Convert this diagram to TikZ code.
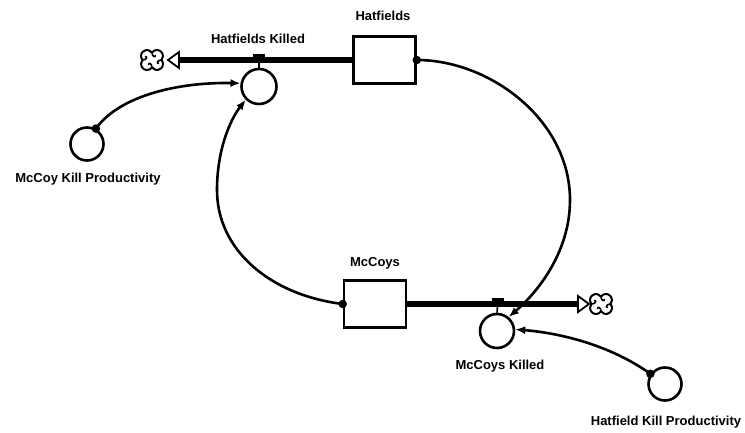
\documentclass[tikz,border=0pt]{standalone}
\usepackage{fontspec}
\setmainfont{Liberation Sans}
\usetikzlibrary{arrows.meta}
\tikzset{
  cloudicon/.pic={
    \fill[white] (5pt,4pt) circle[radius=6pt] (5pt,-4pt) circle[radius=6pt]
                 (-5pt,-4pt) circle[radius=6pt] (-5pt,4pt) circle[radius=6pt];
    \draw[line width=2pt,line join=round]
      (0pt,7.32pt) arc[start angle=146.4,end angle=-41.8,radius=6pt]
      arc[start angle=41.8,end angle=-146.4,radius=6pt]
      arc[start angle=-33.6,end angle=-221.8,radius=6pt]
      arc[start angle=221.8,end angle=33.6,radius=6pt] -- cycle;
    \draw[line width=1.6pt,line cap=round]
      (0pt,7.32pt) .. controls (0pt,4pt) and (3pt,2pt) .. (3.5pt,4.5pt)
      (9.47pt,0pt) .. controls (6pt,0pt) and (4pt,-3pt) .. (6.5pt,-3.5pt)
      (0pt,-7.32pt) .. controls (0pt,-4pt) and (-3pt,-2pt) .. (-3.5pt,-4.5pt)
      (-9.47pt,0pt) .. controls (-6pt,0pt) and (-4pt,3pt) .. (-6.5pt,3.5pt);
  }
}
\begin{document}
\begin{tikzpicture}[x=1pt,y=-1pt,
  stock/.style={draw,line width=2.6pt,minimum width=62pt,minimum height=47pt,inner sep=0pt},
  aux/.style={draw,circle,line width=2.6pt,inner sep=0pt,minimum size=#1},
  lbl/.style={font=\fontsize{13}{15}\selectfont\bfseries,inner sep=0pt},
  pipe/.style={line width=5.5pt},
  valve/.style={fill=black,inner sep=0pt,minimum width=12pt,minimum height=5pt},
  stem/.style={line width=1.6pt},
  link/.style={line width=2.6pt,-{Latex[length=10pt,width=8pt]}},
  dot/.style={fill=black,circle,inner sep=0pt,minimum size=8.5pt},
  tri/.style={draw,fill=white,line width=1.8pt,line join=miter}
]
\useasboundingbox (0,0) rectangle (745,432);

% stocks
\node[stock] (H) at (384.5,60) {};
\node[lbl] (Hlbl) at (383,16) {Hatfields};
\node[stock] (M) at (375,304) {};
\node[lbl] (Mlbl) at (375,263) {McCoys};

% auxiliaries / flow converters
\node[aux=35pt] (hk) at (259,86.5) {};
\node[lbl] (hklbl) at (258,39) {Hatfields Killed};
\node[aux=34pt] (mk) at (497,331) {};
\node[lbl] (mklbl) at (500,366) {McCoys Killed};
\node[aux=33pt] (mkp) at (87,144) {};
\node[lbl] (mkplbl) at (88,179) {McCoy Kill Productivity};
\node[aux=33pt] (hkp) at (665,384) {};
\node[lbl] (hkplbl) at (666,422) {Hatfield Kill Productivity};

% clouds and pipe ends
\pic at (152,60) {cloudicon};
\pic at (601,304) {cloudicon};
\coordinate (t1) at (168,60);
\coordinate (b1) at (179,60);
\coordinate (t2) at (589,304);
\coordinate (b2) at (578,304);

% valves and stems
\node[valve] (v1) at (259,56) {};
\node[valve] (v2) at (498,300) {};
\draw[stem] (v1) -- (hk.north);
\draw[stem] (v2) -- (mk.north);

% pipes
\draw[pipe] (H.west) -- (b1);
\draw[pipe] (M.east) -- (b2);
\draw[tri] (t1) -- ([shift={(11,-8)}]t1) -- ([shift={(11,8)}]t1) -- cycle;
\draw[tri] (t2) -- ([shift={(-11,-8)}]t2) -- ([shift={(-11,8)}]t2) -- cycle;

% connectors
\coordinate (k1) at (570,200);
\coordinate (k2) at (217,190);
\draw[link] (H.east) .. controls (490,60) and (570,120) .. (k1)
            .. controls (570,250) and (540,290) .. (mk.50);
\draw[link] (M.west) .. controls (270,295) and (217,250) .. (k2)
            .. controls (217,150) and (230,120) .. (hk.225);
\draw[link] (hkp.145) .. controls (610,345) and (560,333) .. (mk.5);
\draw[link] (mkp.60) .. controls (120,95) and (180,82) .. (hk.170);

% connector origin dots
\node[dot] (d1) at (H.east) {};
\node[dot] (d2) at (M.west) {};
\node[dot] (d3) at (hkp.145) {};
\node[dot] (d4) at (mkp.60) {};
\end{tikzpicture}
\end{document}
